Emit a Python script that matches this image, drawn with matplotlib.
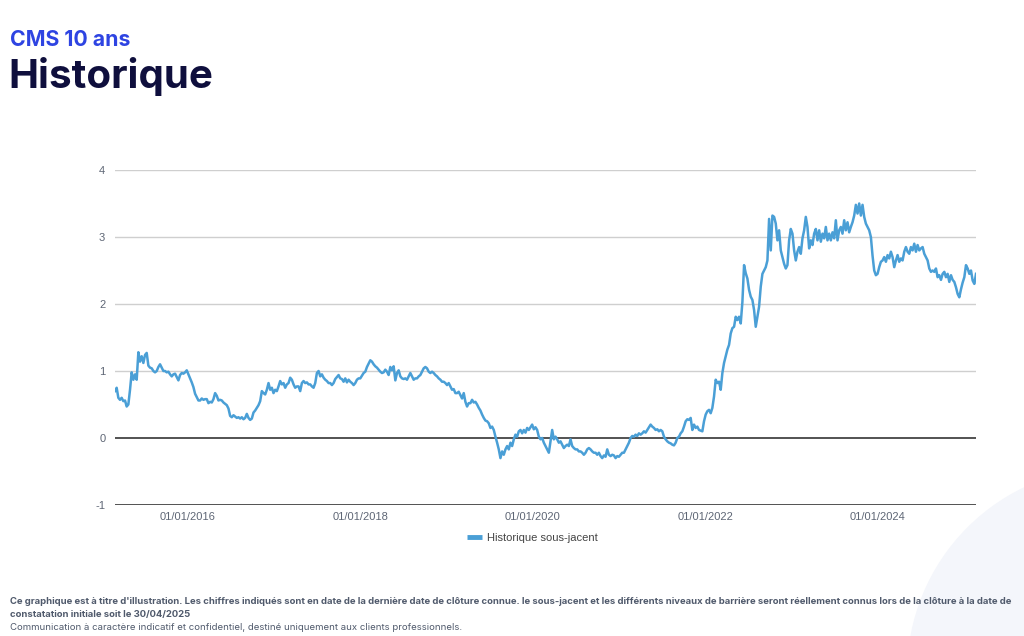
import pandas as pd
import matplotlib.pyplot as plt
from matplotlib.patches import Circle
from matplotlib.lines import Line2D

# weekly readings of the CMS 10 ans rate, in %
START = '2015-02-27'
END = '2025-02-20'

rates_2015_2017 = [
    0.70, 0.75, 0.60, 0.57, 0.60, 0.55, 0.56, 0.47, 0.50, 0.72, 0.98, 0.87, 0.95, 0.87, 1.28, 1.14,
    1.22, 1.12, 1.24, 1.27, 1.08, 1.05, 1.04, 1.00, 0.98, 1.00, 1.06, 1.10, 1.05, 1.00, 1.00, 0.98,
    0.99, 0.95, 0.92, 0.95, 0.96, 0.91, 0.86, 0.94, 0.97, 0.96, 0.98, 1.01, 0.95, 0.89, 0.83, 0.76,
    0.66, 0.61, 0.56, 0.56, 0.59, 0.57, 0.58, 0.58, 0.52, 0.54, 0.53, 0.58, 0.67, 0.63, 0.56, 0.57,
    0.56, 0.53, 0.51, 0.49, 0.44, 0.33, 0.31, 0.34, 0.32, 0.30, 0.31, 0.29, 0.31, 0.28, 0.30, 0.36,
    0.30, 0.27, 0.29, 0.38, 0.41, 0.45, 0.49, 0.55, 0.70, 0.67, 0.65, 0.72, 0.82, 0.72, 0.75, 0.67,
    0.72, 0.70, 0.77, 0.85, 0.80, 0.82, 0.75, 0.80, 0.82, 0.90, 0.87, 0.80, 0.75, 0.77, 0.77, 0.70,
    0.82, 0.85, 0.82, 0.83, 0.80, 0.80, 0.77, 0.75, 0.82, 0.97, 1.00, 0.92, 0.95, 0.90, 0.87, 0.85,
    0.82,
]
rates_2017_2020 = [
    0.82, 0.79, 0.82, 0.88, 0.91, 0.94, 0.89, 0.88, 0.84, 0.89, 0.83, 0.87, 0.84, 0.82, 0.79, 0.82,
    0.87, 0.89, 0.89, 0.93, 0.97, 0.99, 1.06, 1.11, 1.16, 1.14, 1.10, 1.07, 1.05, 1.02, 0.99, 0.97,
    0.98, 1.02, 0.99, 0.94, 1.06, 1.01, 1.07, 0.86, 0.97, 1.01, 0.92, 0.89, 0.88, 0.89, 0.87, 0.92,
    0.97, 0.92, 0.87, 0.89, 0.89, 0.92, 0.94, 0.99, 1.04, 1.06, 1.04, 0.99, 0.97, 0.99, 0.97, 0.94,
    0.92, 0.89, 0.87, 0.84, 0.84, 0.82, 0.79, 0.82, 0.77, 0.72, 0.73, 0.67, 0.67, 0.69, 0.64, 0.59,
    0.67, 0.54, 0.47, 0.52, 0.52, 0.57, 0.53, 0.54, 0.50, 0.45, 0.41, 0.35, 0.30, 0.26, 0.25, 0.22,
    0.15, 0.17, 0.12, 0.02, -0.07, -0.17, -0.30, -0.20, -0.25, -0.17, -0.12, -0.17, -0.07, -0.12, -0.02, 0.05,
    0.02, 0.10, 0.12, 0.07, 0.12, 0.08, 0.15, 0.12, 0.16, 0.20, 0.13, 0.16, 0.12, 0.02, -0.02, 0.00,
    -0.07, -0.12,
]
rates_2020_2022 = [
    -0.17, -0.22, -0.05, 0.12, -0.02, 0.02, -0.02, -0.07, -0.05, -0.10, -0.15, -0.12, -0.10, -0.12, -0.02, -0.12,
    -0.15, -0.17, -0.17, -0.20, -0.20, -0.22, -0.25, -0.22, -0.17, -0.15, -0.17, -0.20, -0.22, -0.22, -0.25, -0.22,
    -0.27, -0.30, -0.26, -0.28, -0.17, -0.25, -0.27, -0.25, -0.26, -0.30, -0.27, -0.28, -0.25, -0.22, -0.22, -0.17,
    -0.12, -0.07, 0.00, 0.03, 0.02, 0.05, 0.03, 0.07, 0.05, 0.07, 0.10, 0.08, 0.12, 0.16, 0.20, 0.17,
    0.15, 0.12, 0.13, 0.10, 0.12, 0.10, 0.02, -0.02, -0.05, -0.07, -0.08, -0.10, -0.11, -0.07, 0.00, 0.02,
    0.07, 0.10, 0.17, 0.25, 0.28, 0.27, 0.30, 0.12, 0.20, 0.15, 0.17, 0.12, 0.11, 0.10, 0.25, 0.35,
    0.40, 0.42, 0.37, 0.45, 0.62, 0.87, 0.82, 0.84, 0.72, 0.97, 1.12, 1.22, 1.32, 1.39, 1.56, 1.64,
    1.66, 1.81, 1.76, 1.81, 1.71, 2.03, 2.58, 2.46, 2.38, 2.21, 2.11, 2.06, 1.91, 1.66, 1.81, 1.96,
    2.26,
]
rates_2022_2025 = [
    2.45, 2.50, 2.55, 2.65, 3.27, 2.80, 3.32, 3.30, 3.20, 2.95, 3.10, 2.80, 2.70, 2.60, 2.53, 2.58,
    2.95, 3.12, 3.05, 2.80, 2.65, 2.78, 2.85, 2.75, 2.98, 3.10, 3.30, 3.15, 2.83, 2.95, 2.88, 3.05,
    3.12, 2.95, 3.10, 2.93, 3.05, 2.98, 3.15, 2.95, 3.05, 2.95, 3.07, 2.98, 3.25, 2.95, 3.10, 3.15,
    3.05, 3.25, 3.10, 3.22, 3.07, 3.15, 3.22, 3.32, 3.48, 3.35, 3.50, 3.32, 3.48, 3.30, 3.20, 3.15,
    3.10, 3.00, 2.72, 2.50, 2.43, 2.45, 2.55, 2.63, 2.65, 2.70, 2.63, 2.73, 2.68, 2.78, 2.70, 2.55,
    2.65, 2.73, 2.63, 2.68, 2.65, 2.78, 2.85, 2.78, 2.75, 2.85, 2.80, 2.90, 2.78, 2.88, 2.80, 2.83,
    2.85, 2.75, 2.70, 2.65, 2.53, 2.48, 2.50, 2.48, 2.53, 2.40, 2.43, 2.36, 2.45, 2.48, 2.40, 2.45,
    2.33, 2.43, 2.36, 2.33, 2.25, 2.15, 2.10, 2.22, 2.32, 2.40, 2.58, 2.53, 2.45, 2.50, 2.35, 2.30,
    2.45,
]

y_ticks = [-1, 0, 1, 2, 3, 4]
x_ticks = ['2016-01-01', '2018-01-01', '2020-01-01', '2022-01-01', '2024-01-01']

SERIES_LABEL = 'Historique sous-jacent'
SUBTITLE = 'CMS 10 ans'
TITLE = 'Historique'
NOTE_1 = ("Ce graphique est à titre d'illustration. Les chiffres indiqués sont en date de la dernière date de "
          "clôture connue. le sous-jacent et les différents niveaux de barrière seront réellement connus lors "
          "de la clôture à la date de")
NOTE_2 = "constatation initiale soit le 30/04/2025"
NOTE_3 = "Communication à caractère indicatif et confidentiel, destiné uniquement aux clients professionnels."

LINE_COLOR = '#4a9fd6'
TICK_COLOR = '#5e6675'
NOTE_COLOR = '#505a6c'

rates = rates_2015_2017 + rates_2017_2020 + rates_2020_2022 + rates_2022_2025
dates = pd.date_range(START, END, periods=len(rates))
series = pd.Series(rates, index=dates)

fig = plt.figure(figsize=(10.24, 6.36), dpi=100)
fig.set_facecolor('white')

# pale decorative disc in the bottom right corner
fig.patches.append(Circle((11.13, -0.37), 2.06, transform=fig.dpi_scale_trans,
                          facecolor='#f4f6fb', edgecolor='none', zorder=0))

ax = fig.add_axes([115 / 1024, 1 - 505 / 636, 861 / 1024, 335 / 636])
ax.set_facecolor('none')
for s in ax.spines.values():
    s.set_visible(False)

for v in y_ticks:
    dark = v <= 0
    ax.axhline(v, color='#444444' if dark else '#cfcfcf', lw=1.3 if dark else 1.0, zorder=1)

ax.plot(series.index, series.values, color=LINE_COLOR, lw=1.8, zorder=3)

ax.set_xlim(dates[0], dates[-1])
ax.set_ylim(-1, 4)
ax.set_yticks(y_ticks)
ax.set_yticklabels([str(v) for v in y_ticks])
ax.set_xticks(pd.to_datetime(x_ticks))
ax.set_xticklabels(pd.to_datetime(x_ticks).strftime('%d/%m/%Y'))
ax.tick_params(axis='both', length=0, labelsize=8, labelcolor=TICK_COLOR)
ax.tick_params(axis='y', pad=7)
ax.tick_params(axis='x', pad=5)
for lab in ax.get_xticklabels() + ax.get_yticklabels():
    lab.set_family('Liberation Sans')

handle = Line2D([], [], color=LINE_COLOR, lw=3.5, solid_capstyle='butt')
fig.legend([handle], [SERIES_LABEL], loc='center', bbox_to_anchor=(0.52, 1 - 538 / 636),
           frameon=False, handlelength=1.3, handletextpad=0.5,
           prop={'family': 'Liberation Sans', 'size': 8}, labelcolor='#444444')

fig.text(10 / 1024, 1 - 40 / 636, SUBTITLE, color='#2e44e2', fontsize=15.3, fontweight='bold',
         family='Inter', va='center', ha='left')
fig.text(8 / 1024, 1 - 76 / 636, TITLE, color='#0f0f3d', fontsize=29, fontweight='bold',
         family='Inter', va='center', ha='left')

fig.text(10 / 1024, 1 - 601 / 636, NOTE_1, color=NOTE_COLOR, fontsize=6.83, fontweight='bold',
         family='Inter', va='center', ha='left')
fig.text(10 / 1024, 1 - 614 / 636, NOTE_2, color=NOTE_COLOR, fontsize=6.83, fontweight='bold',
         family='Inter', va='center', ha='left')
fig.text(10 / 1024, 1 - 628 / 636, NOTE_3, color=NOTE_COLOR, fontsize=6.9,
         family='Inter', va='center', ha='left')

fig.savefig('out.png', dpi=100, facecolor='white')
